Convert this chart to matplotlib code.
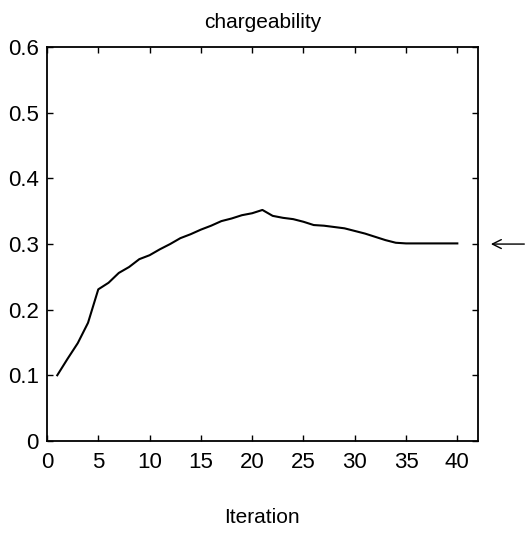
import matplotlib
matplotlib.use("Agg")
import matplotlib.pyplot as plt

plt.rcParams['font.family'] = ['Liberation Sans', 'DejaVu Sans']

# chargeability estimate at each iteration
iteration = list(range(1, 41))
charge = [0.100, 0.125, 0.149, 0.180, 0.231, 0.241, 0.256, 0.265, 0.277, 0.283,
          0.292, 0.300, 0.309, 0.315, 0.322, 0.328, 0.335, 0.339, 0.344, 0.347,
          0.352, 0.343, 0.340, 0.338, 0.334, 0.329, 0.328, 0.326, 0.324, 0.320,
          0.316, 0.311, 0.306, 0.302, 0.301, 0.301, 0.301, 0.301, 0.301, 0.301]
true_value = 0.3

xticks = [0, 5, 10, 15, 20, 25, 30, 35, 40]
yticks = [0, 0.1, 0.2, 0.3, 0.4, 0.5, 0.6]
ytick_labels = ['0', '0.1', '0.2', '0.3', '0.4', '0.5', '0.6']

fig = plt.figure(figsize=(5.28, 5.37), dpi=100)
ax = fig.add_axes([0.089, 0.179, 0.816, 0.733])
ax.plot(iteration, charge, color='black', lw=1.5)

ax.set_xlim(0, 42)
ax.set_ylim(0, 0.6)
ax.set_xticks(xticks)
ax.set_yticks(yticks)
ax.set_yticklabels(ytick_labels)
ax.tick_params(direction='in', top=True, right=True, length=4, width=1,
               labelsize=16, pad=8)
ax.tick_params(axis='y', pad=6)
for s in ax.spines.values():
    s.set_linewidth(1.3)

ax.set_title('chargeability', fontsize=15, pad=14)
ax.set_xlabel('Iteration', fontsize=15, labelpad=25)

# arrow marking the true value, outside the frame
ax.annotate('', xy=(43.0, true_value), xytext=(46.8, true_value),
            xycoords='data', textcoords='data', annotation_clip=False,
            arrowprops=dict(arrowstyle='->', color='black', lw=1.0,
                            mutation_scale=16))

fig.savefig('out.png', dpi=100)
